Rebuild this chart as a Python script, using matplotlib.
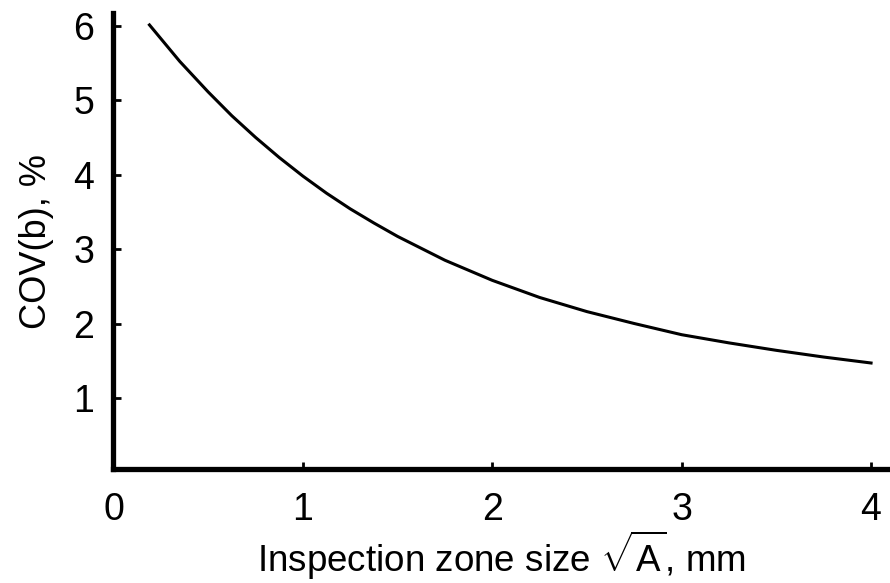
import matplotlib
matplotlib.use("Agg")
import matplotlib.pyplot as plt

plt.rcParams['font.family'] = ['Liberation Sans', 'DejaVu Sans']
plt.rcParams['mathtext.fontset'] = 'custom'
plt.rcParams['mathtext.rm'] = 'Liberation Sans'

# values
zone_size = [0.19, 0.35, 0.5, 0.625, 0.75, 0.875, 1.0, 1.125, 1.25, 1.375, 1.5, 1.75,
             2.0, 2.25, 2.5, 2.75, 3.0, 3.25, 3.5, 3.75, 4.0]
cov_b = [6.01, 5.52, 5.11, 4.79, 4.50, 4.23, 3.98, 3.75, 3.54, 3.35, 3.17, 2.85,
         2.58, 2.35, 2.16, 2.00, 1.85, 1.74, 1.64, 1.55, 1.47]

x_ticks = [0, 1, 2, 3, 4]
y_ticks = [1, 2, 3, 4, 5, 6]

fig = plt.figure(figsize=(8.9, 5.83), dpi=100)
ax = fig.add_axes([0.1275, 0.1947, 0.8725, 0.783])

ax.plot(zone_size, cov_b, color='black', linewidth=2.2)

ax.set_xlim(0, 4.1)
ax.set_ylim(0.04, 6.17)
ax.set_xticks(x_ticks)
ax.set_yticks(y_ticks)

for side in ['top', 'right']:
    ax.spines[side].set_visible(False)
for side in ['left', 'bottom']:
    ax.spines[side].set_linewidth(3.8)

ax.tick_params(axis='y', direction='in', length=6, width=2, labelsize=27, pad=14)
ax.tick_params(axis='x', direction='in', length=5, width=2, labelsize=27, pad=16)

ax.set_xlabel(r'Inspection zone size $\sqrt{\mathrm{A}}$, mm', fontsize=26.5, labelpad=1)
ax.set_ylabel('COV(b), %', fontsize=26, labelpad=14)

fig.savefig('out.png', dpi=100)
